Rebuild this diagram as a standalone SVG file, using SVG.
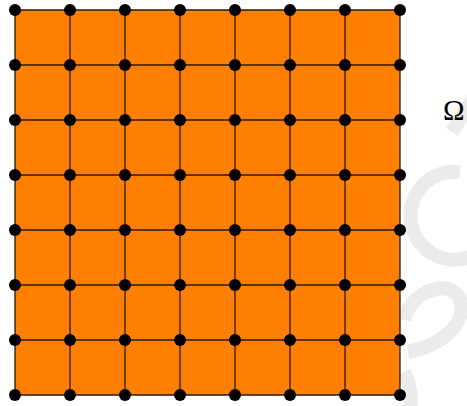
<svg xmlns="http://www.w3.org/2000/svg" width="467" height="406" viewBox="0 0 467 406">
<style>
.wm{fill:none;stroke:#ebebeb;stroke-width:14}
.ln{stroke:#2b1a0a;stroke-width:1.3;fill:none}
.pt{fill:#000}
.lbl{font-family:"Liberation Serif",serif;font-size:29px;fill:#000}
</style>
<g id="watermark">
<path class="wm" d="M482,84 L452,132"/>
<path class="wm" d="M460,172 A44,44 0 1 0 482,250"/>
<path class="wm" d="M404,320 C410,292 450,276 460,300 C468,324 440,346 408,352"/>
<path class="wm" d="M404,372 C410,384 412,396 410,410"/>
</g>
<g id="domain">
<rect x="15" y="10" width="385" height="385" fill="#ff8000"/>
</g>
<g id="edges" class="ln">
<path d="M15,10V395M70,10V395M125,10V395M180,10V395M235,10V395M290,10V395M345,10V395M400,10V395"/>
<path d="M15,10H400M15,65H400M15,120H400M15,175H400M15,230H400M15,285H400M15,340H400M15,395H400"/>
</g>
<g id="nodes" class="pt">
<g id="r0"><circle cx="15" cy="10" r="6"/><circle cx="70" cy="10" r="6"/><circle cx="125" cy="10" r="6"/><circle cx="180" cy="10" r="6"/><circle cx="235" cy="10" r="6"/><circle cx="290" cy="10" r="6"/><circle cx="345" cy="10" r="6"/><circle cx="400" cy="10" r="6"/></g>
<g id="r1"><circle cx="15" cy="65" r="6"/><circle cx="70" cy="65" r="6"/><circle cx="125" cy="65" r="6"/><circle cx="180" cy="65" r="6"/><circle cx="235" cy="65" r="6"/><circle cx="290" cy="65" r="6"/><circle cx="345" cy="65" r="6"/><circle cx="400" cy="65" r="6"/></g>
<g id="r2"><circle cx="15" cy="120" r="6"/><circle cx="70" cy="120" r="6"/><circle cx="125" cy="120" r="6"/><circle cx="180" cy="120" r="6"/><circle cx="235" cy="120" r="6"/><circle cx="290" cy="120" r="6"/><circle cx="345" cy="120" r="6"/><circle cx="400" cy="120" r="6"/></g>
<g id="r3"><circle cx="15" cy="175" r="6"/><circle cx="70" cy="175" r="6"/><circle cx="125" cy="175" r="6"/><circle cx="180" cy="175" r="6"/><circle cx="235" cy="175" r="6"/><circle cx="290" cy="175" r="6"/><circle cx="345" cy="175" r="6"/><circle cx="400" cy="175" r="6"/></g>
<g id="r4"><circle cx="15" cy="230" r="6"/><circle cx="70" cy="230" r="6"/><circle cx="125" cy="230" r="6"/><circle cx="180" cy="230" r="6"/><circle cx="235" cy="230" r="6"/><circle cx="290" cy="230" r="6"/><circle cx="345" cy="230" r="6"/><circle cx="400" cy="230" r="6"/></g>
<g id="r5"><circle cx="15" cy="285" r="6"/><circle cx="70" cy="285" r="6"/><circle cx="125" cy="285" r="6"/><circle cx="180" cy="285" r="6"/><circle cx="235" cy="285" r="6"/><circle cx="290" cy="285" r="6"/><circle cx="345" cy="285" r="6"/><circle cx="400" cy="285" r="6"/></g>
<g id="r6"><circle cx="15" cy="340" r="6"/><circle cx="70" cy="340" r="6"/><circle cx="125" cy="340" r="6"/><circle cx="180" cy="340" r="6"/><circle cx="235" cy="340" r="6"/><circle cx="290" cy="340" r="6"/><circle cx="345" cy="340" r="6"/><circle cx="400" cy="340" r="6"/></g>
<g id="r7"><circle cx="15" cy="395" r="6"/><circle cx="70" cy="395" r="6"/><circle cx="125" cy="395" r="6"/><circle cx="180" cy="395" r="6"/><circle cx="235" cy="395" r="6"/><circle cx="290" cy="395" r="6"/><circle cx="345" cy="395" r="6"/><circle cx="400" cy="395" r="6"/></g>
</g>
<g id="label"><text class="lbl" x="443" y="120">Ω</text></g>
</svg>
